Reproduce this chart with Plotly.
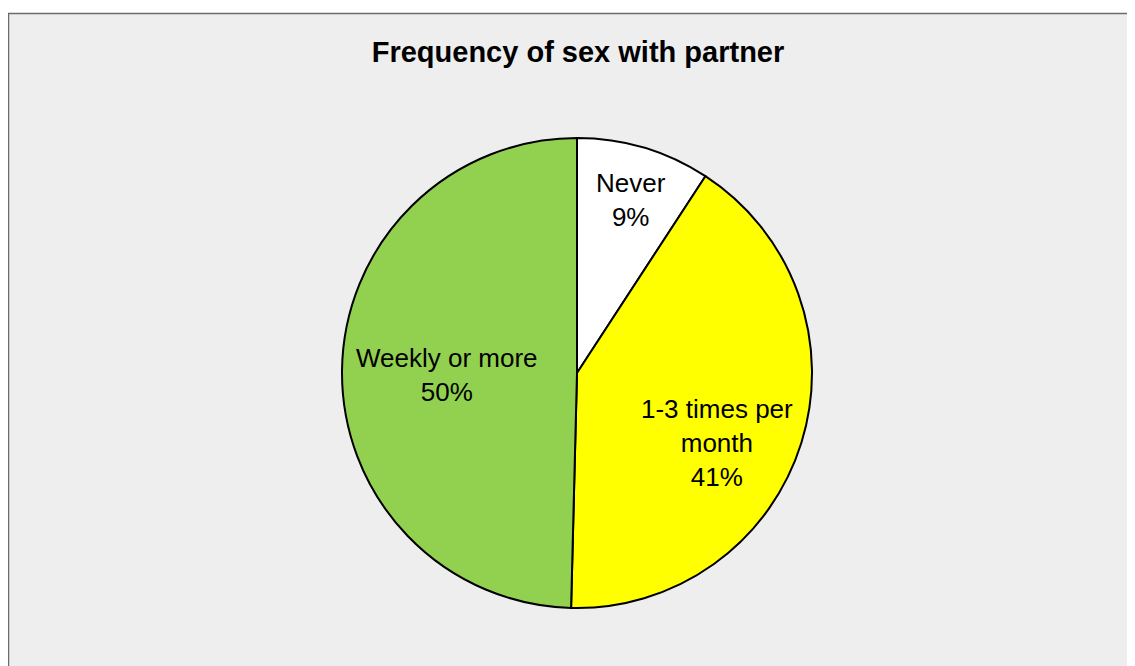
import math

import plotly.graph_objects as go

categorias = ["Never", "1-3 times per month", "Weekly or more"]
etiquetas = ["Never", "1-3 times per<br>month", "Weekly or more"]
valores = [9.2, 41.2, 49.6]
porcentajes = ["9%", "41%", "50%"]
colores = ["#FFFFFF", "#FFFF00", "#92D050"]

# ubicación de las etiquetas: fracción del radio y corrección del ángulo (grados)
radio_etiqueta = [0.77, 0.666, 0.553]
giro_etiqueta = [0.8, 9.3, -1.4]

W, H = 1135, 666
# la página tiene un margen de 8 px en el body
OFF = 8
CX, CY, R = 577 - OFF, 373 - OFF, 235

fig = go.Figure()

fig.add_trace(
    go.Pie(
        labels=categorias,
        values=valores,
        textinfo="none",
        sort=False,
        direction="clockwise",
        rotation=0,
        marker={"colors": colores, "line": {"color": "black", "width": 2}},
        hoverinfo="label+percent",
        showlegend=False,
        domain={
            "x": [(CX - R) / W, (CX + R) / W],
            "y": [1 - (CY + R) / H, 1 - (CY - R) / H],
        },
    )
)

# Etiquetas de cada porción, en el ángulo medio de la porción
total = sum(valores)
acumulado = 0
for etiqueta, valor, pct, fr, giro in zip(etiquetas, valores, porcentajes, radio_etiqueta, giro_etiqueta):
    angulo = math.radians((acumulado + valor / 2) / total * 360 + giro)
    acumulado += valor
    px = CX + fr * R * math.sin(angulo)
    py = CY - fr * R * math.cos(angulo)
    fig.add_annotation(
        x=px / W,
        y=1 - py / H,
        xref="paper",
        yref="paper",
        text=f"{etiqueta}<br>{pct}",
        showarrow=False,
        xanchor="center",
        yanchor="middle",
        font={"family": "Liberation Sans, Arial", "size": 26, "color": "black"},
    )

fig.update_layout(
    width=W,
    height=H,
    margin={"l": 0, "r": 0, "t": 0, "b": 0},
    paper_bgcolor="white",
    title={
        "text": "<b>Frequency of sex with partner</b>",
        "x": (578 - OFF) / W,
        "xanchor": "center",
        "y": 1 - (52 - OFF) / H,
        "yanchor": "middle",
        "font": {"family": "Liberation Sans, Arial", "size": 29, "color": "black"},
    },
    shapes=[
        {
            "type": "rect",
            "xref": "paper",
            "yref": "paper",
            "x0": 0.5 / W,
            "x1": 1.01,
            "y0": -0.02,
            "y1": 1 - 5.5 / H,
            "fillcolor": "#EEEEEE",
            "line": {"color": "#6B6B6B", "width": 1.5},
            "layer": "below",
        }
    ],
)

fig.write_html("out.html")
